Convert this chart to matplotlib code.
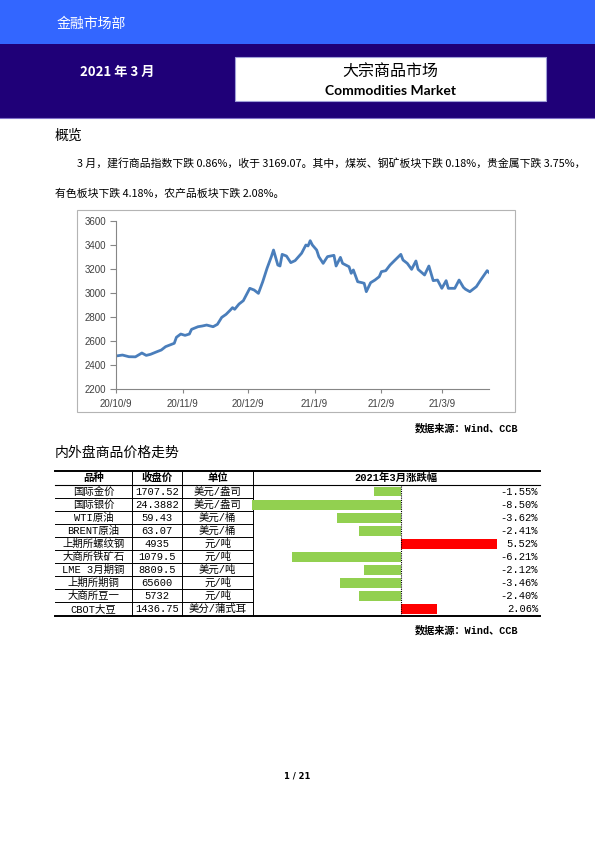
import matplotlib
matplotlib.use('Agg')
import matplotlib.pyplot as plt
import numpy as np
import pandas as pd
from matplotlib.patches import Rectangle

# CCB commodities monthly report, page 1 (March 2021)

CJK = ['Noto Sans CJK SC', 'DejaVu Sans']
SONG = ['Liberation Mono', 'Noto Sans CJK SC']

# ---- index line chart data ----
idx_dates = ['2020-10-09', '2020-10-12', '2020-10-15', '2020-10-18', '2020-10-21', '2020-10-23',
             '2020-10-25', '2020-10-28', '2020-10-30', '2020-11-01', '2020-11-05', '2020-11-06',
             '2020-11-08', '2020-11-10', '2020-11-12', '2020-11-13', '2020-11-16', '2020-11-18',
             '2020-11-20', '2020-11-23', '2020-11-25', '2020-11-27', '2020-11-29', '2020-12-01',
             '2020-12-02', '2020-12-03', '2020-12-05', '2020-12-07', '2020-12-10', '2020-12-12',
             '2020-12-14', '2020-12-16', '2020-12-18', '2020-12-20', '2020-12-21', '2020-12-23',
             '2020-12-24', '2020-12-25', '2020-12-27', '2020-12-29', '2020-12-31', '2021-01-03',
             '2021-01-05', '2021-01-06', '2021-01-07', '2021-01-08', '2021-01-10', '2021-01-11',
             '2021-01-13', '2021-01-15', '2021-01-18', '2021-01-19', '2021-01-21', '2021-01-22',
             '2021-01-25', '2021-01-26', '2021-01-27', '2021-01-29', '2021-01-31', '2021-02-01',
             '2021-02-02', '2021-02-04', '2021-02-06', '2021-02-08', '2021-02-09', '2021-02-11',
             '2021-02-13', '2021-02-15', '2021-02-18', '2021-02-19', '2021-02-21', '2021-02-23',
             '2021-02-25', '2021-02-26', '2021-03-01', '2021-03-03', '2021-03-05', '2021-03-07',
             '2021-03-09', '2021-03-11', '2021-03-12', '2021-03-15', '2021-03-17', '2021-03-19',
             '2021-03-20', '2021-03-22', '2021-03-25', '2021-03-27', '2021-03-30', '2021-03-31']
idx_values = [2475, 2483, 2469, 2468, 2500, 2480,
              2489, 2511, 2525, 2553, 2581, 2631,
              2658, 2647, 2658, 2697, 2719, 2725,
              2733, 2719, 2739, 2797, 2822, 2858,
              2878, 2864, 2908, 2936, 3039, 3025,
              2997, 3094, 3206, 3303, 3358, 3233,
              3225, 3322, 3308, 3253, 3270, 3331,
              3400, 3392, 3436, 3400, 3358, 3303,
              3247, 3303, 3314, 3225, 3297, 3247,
              3219, 3164, 3192, 3094, 3086, 3081,
              3011, 3086, 3108, 3136, 3178, 3186,
              3233, 3269, 3322, 3275, 3247, 3197,
              3267, 3197, 3150, 3225, 3103, 3108,
              3039, 3103, 3039, 3039, 3108, 3047,
              3031, 3011, 3053, 3108, 3186, 3169]
x_ticks = ['2020-10-09', '2020-11-09', '2020-12-09', '2021-01-09', '2021-02-09', '2021-03-09']
x_tick_labels = ['20/10/9', '20/11/9', '20/12/9', '21/1/9', '21/2/9', '21/3/9']
y_ticks = [2200, 2400, 2600, 2800, 3000, 3200, 3400, 3600]

# ---- price table data ----
names = ['国际金价', '国际银价', 'WTI原油', 'BRENT原油', '上期所螺纹钢',
         '大商所铁矿石', 'LME 3月期铜', '上期所期铜', '大商所豆一', 'CBOT大豆']
closes = ['1707.52', '24.3882', '59.43', '63.07', '4935',
          '1079.5', '8809.5', '65600', '5732', '1436.75']
units = ['美元/盎司', '美元/盎司', '美元/桶', '美元/桶', '元/吨',
         '元/吨', '美元/吨', '元/吨', '元/吨', '美分/蒲式耳']
changes = [-1.55, -8.50, -3.62, -2.41, 5.52, -6.21, -2.12, -3.46, -2.40, 2.06]
headers = ['品种', '收盘价', '单位', '2021年3月涨跌幅']

W, H = 595, 842
fig = plt.figure(figsize=(W / 100, H / 100), dpi=100)


def px_axes(x0, y0, x1, y1, **kw):
    return fig.add_axes([x0 / W, 1 - y1 / H, (x1 - x0) / W, (y1 - y0) / H], **kw)


bg = px_axes(0, 0, W, H)
bg.set_xlim(0, W)
bg.set_ylim(H, 0)
bg.axis('off')

# header bands
bg.add_patch(Rectangle((0, 0), W, 44, color='#3366ff', lw=0))
bg.add_patch(Rectangle((0, 44), W, 74, color='#1f0078', lw=0))
bg.plot([0, W], [118, 118], color='#8070c8', lw=0.8)
bg.add_patch(Rectangle((235, 57), 311, 44, facecolor='white', edgecolor='#a0a0d8', lw=0.8))
bg.text(57, 24, '金融市场部', color='white', fontsize=10, family=CJK, va='center')
bg.text(80, 72, '2021 年 3 月', color='white', fontsize=9.5, weight='bold', family=CJK, va='center')
bg.text(390.5, 71, '大宗商品市场', color='black', fontsize=11.5, family=CJK, ha='center', va='center')
bg.text(390.5, 91, 'Commodities Market', color='black', fontsize=10, weight='bold',
        family=['Lato', 'DejaVu Sans'], ha='center', va='center')

# overview
bg.text(55, 136, '概览', fontsize=10, family=CJK, va='center')
bg.text(77, 163, '3 月，建行商品指数下跌 0.86%，收于 3169.07。其中，煤炭、钢矿板块下跌 0.18%，贵金属下跌 3.75%，',
        fontsize=7.8, family=CJK, va='center')
bg.text(55, 194, '有色板块下跌 4.18%，农产品板块下跌 2.08%。', fontsize=7.8, family=CJK, va='center')

# line chart frame
bg.add_patch(Rectangle((77, 210), 438, 202, facecolor='none', edgecolor='#b4b4b4', lw=0.8))

ax = px_axes(116, 221, 489.3, 389)
ax.patch.set_alpha(0)
ax.plot(pd.to_datetime(idx_dates), idx_values, color='#4a7ebb', lw=2.0, solid_joinstyle='round')
ax.set_xlim(pd.Timestamp('2020-10-09'), pd.Timestamp('2021-03-31'))
ax.set_ylim(2200, 3600)
ax.set_yticks(y_ticks)
ax.set_xticks(pd.to_datetime(x_ticks))
ax.set_xticklabels(x_tick_labels)
for s in ['top', 'right']:
    ax.spines[s].set_visible(False)
for s in ['left', 'bottom']:
    ax.spines[s].set_color('#868686')
    ax.spines[s].set_linewidth(0.8)
ax.tick_params(axis='y', length=4, width=0.8, color='#868686', pad=3,
               labelsize=7, labelcolor='#404040')
ax.tick_params(axis='x', length=3, width=0.8, color='#868686', pad=4,
               labelsize=7, labelcolor='#404040')
for lab in ax.get_xticklabels() + ax.get_yticklabels():
    lab.set_family(['Liberation Sans'])

bg.text(518, 428, '数据来源：Wind、CCB', fontsize=7.3, weight='bold', family=SONG, ha='right', va='center')

# price table
bg.text(55, 453, '内外盘商品价格走势', fontsize=10, family=CJK, va='center')

top, hdr, rh = 471, 485, 13.05
bottom = hdr + rh * len(names)
cols = [55, 132, 182, 253, 540]
bg.plot([cols[0], cols[-1]], [top, top], color='black', lw=1.4)
bg.plot([cols[0], cols[-1]], [bottom, bottom], color='black', lw=1.4)
bg.plot([cols[0], cols[-1]], [hdr, hdr], color='black', lw=0.8)
for i in range(1, len(names)):
    y = hdr + rh * i
    bg.plot([cols[0], cols[3]], [y, y], color='black', lw=0.7)
for x in cols[1:4]:
    bg.plot([x, x], [top, bottom], color='black', lw=0.7)

centers = [(cols[0] + cols[1]) / 2, (cols[1] + cols[2]) / 2, (cols[2] + cols[3]) / 2, 396]
for cx, h in zip(centers, headers):
    bg.text(cx, (top + hdr) / 2, h, fontsize=7.5, weight='bold', family=SONG, ha='center', va='center')
for i in range(len(names)):
    cy = hdr + rh * (i + 0.5)
    for cx, txt in zip(centers[:3], [names[i], closes[i], units[i]]):
        bg.text(cx, cy, txt, fontsize=7.5, family=SONG, ha='center', va='center')
    bg.text(538, cy, f'{changes[i]:.2f}%', fontsize=7.5, family=SONG, ha='right', va='center')

bax = px_axes(252, hdr, 540, bottom)
bax.patch.set_alpha(0)
pos = np.arange(len(changes)) + 0.5
colors = ['#ff0000' if v > 0 else '#92d050' for v in changes]
bax.barh(pos, changes, height=0.76, color=colors, edgecolor='none')
bax.axvline(0, color='black', lw=0.8, ls=(0, (1, 1)))
bax.set_xlim(-8.5, (540 - 252) / 17.5 - 8.5)
bax.set_ylim(len(changes), 0)
bax.axis('off')

bg.text(518, 630, '数据来源：Wind、CCB', fontsize=7.3, weight='bold', family=SONG, ha='right', va='center')

bg.text(297, 776, '1 / 21', fontsize=6, weight='bold', ha='center', va='center')

fig.savefig('out.png', dpi=100)
